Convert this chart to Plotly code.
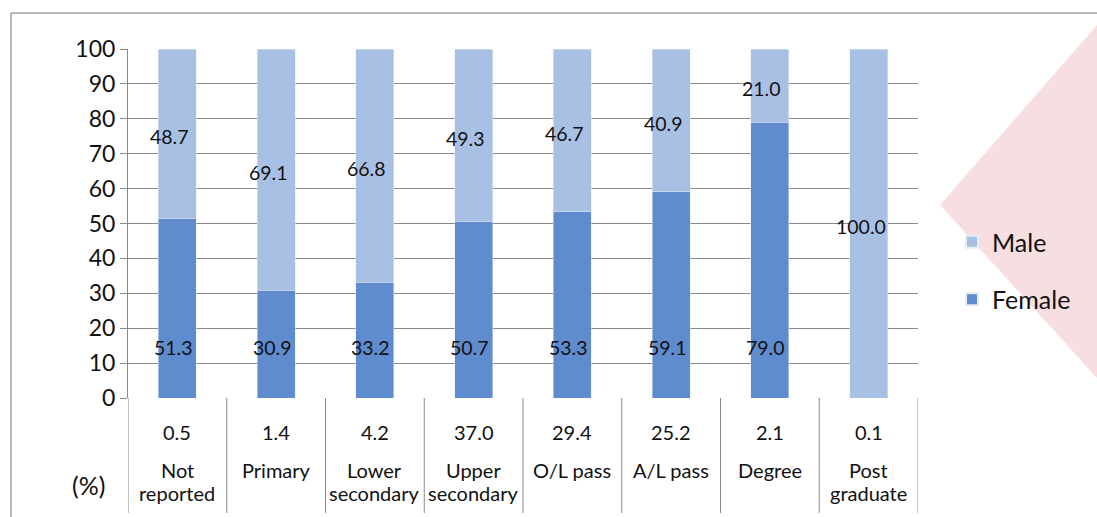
import plotly.graph_objects as go

# Education level categories (two-line labels) and share of each level (%)
categories = ["Not<br>reported", "Primary", "Lower<br>secondary", "Upper<br>secondary",
              "O/L pass", "A/L pass", "Degree", "Post<br>graduate"]
level_share = ["0.5", "1.4", "4.2", "37.0", "29.4", "25.2", "2.1", "0.1"]

# Gender split within each level (%)
female = [51.3, 30.9, 33.2, 50.7, 53.3, 59.1, 79.0, 0.0]
male = [48.7, 69.1, 66.8, 49.3, 46.7, 40.9, 21.0, 100.0]

FEMALE_COLOR = "#5F8BCF"
MALE_COLOR = "#A9C0E5"
GRID = "#8A8A8A"
FONT = "Lato, 'DejaVu Sans', sans-serif"
TEXT = "#111111"

n = len(categories)
xs = list(range(n))

# plot-area geometry in pixels, used to convert pixel offsets to paper units
W, H = 1097, 517
L, R, T, B = 128, 179, 49, 119
PW, PH = W - L - R, H - T - B


def px_x(p):
    return (p - L) / PW


def px_y(p):
    return (H - B - p) / PH


fig = go.Figure()
fig.add_trace(go.Bar(x=xs, y=female, name="Female", marker_color=FEMALE_COLOR,
                     width=0.385, legendgroup="f", legendrank=2, hoverinfo="skip"))
fig.add_trace(go.Bar(x=xs, y=male, name="Male", marker_color=MALE_COLOR,
                     width=0.385, legendgroup="m", legendrank=1, hoverinfo="skip"))

annotations = []
# male value labels, centred in the male segment
for i, (f, m) in enumerate(zip(female, male)):
    annotations.append(dict(x=i, y=f + m / 2, xref="x", yref="y", text=f"{m:.1f}",
                            showarrow=False, xshift=-8, yshift=-3,
                            font=dict(family=FONT, size=19.5, color=TEXT)))
# female value labels, all on one row near the base
for i, f in enumerate(female):
    if f > 0:
        annotations.append(dict(x=i, y=14.6, xref="x", yref="y", text=f"{f:.1f}",
                                showarrow=False, xshift=-4,
                                font=dict(family=FONT, size=19.5, color=TEXT)))
# table under the axis: share row and category rows
for i, (s, c) in enumerate(zip(level_share, categories)):
    annotations.append(dict(x=i, y=px_y(432), xref="x", yref="paper", text=s,
                            showarrow=False, yanchor="middle",
                            font=dict(family=FONT, size=20, color=TEXT)))
    for j, line in enumerate(c.split("<br>")):
        annotations.append(dict(x=i, y=px_y(470 + 23 * j), xref="x", yref="paper",
                                text=line, showarrow=False, yanchor="middle",
                                font=dict(family=FONT, size=20, color=TEXT)))
annotations.append(dict(x=px_x(88), y=px_y(485), xref="paper", yref="paper", text="(%)",
                        showarrow=False, xanchor="center", yanchor="middle",
                        font=dict(family=FONT, size=25, color=TEXT)))

shapes = []
# soft pink diamond in the right margin
shapes.append(dict(type="path", xref="paper", yref="paper", layer="below",
                   path=f"M {px_x(940)},{px_y(205)} L {px_x(1097)},{px_y(25)} "
                        f"L {px_x(1097)},{px_y(378)} Z",
                   fillcolor="#F7DEE1", line=dict(width=0)))
# separators of the category table
for k in range(n + 1):
    shapes.append(dict(type="line", xref="x", yref="paper", x0=k - 0.5, x1=k - 0.5,
                       y0=0, y1=px_y(513), line=dict(color=GRID, width=1)))
# outer frame (top and left edges)
shapes.append(dict(type="line", xref="paper", yref="paper", x0=px_x(11), x1=px_x(1097),
                   y0=px_y(13), y1=px_y(13), line=dict(color="#A0A0A0", width=1.5)))
shapes.append(dict(type="line", xref="paper", yref="paper", x0=px_x(11), x1=px_x(11),
                   y0=px_y(13), y1=px_y(517), line=dict(color="#A0A0A0", width=1.5)))

fig.update_layout(
    width=W, height=H,
    margin=dict(l=L, r=R, t=T, b=B),
    barmode="stack",
    paper_bgcolor="white", plot_bgcolor="rgba(0,0,0,0)",
    font=dict(family=FONT, color=TEXT),
    showlegend=True,
    legend=dict(x=px_x(952), y=px_y(219), xanchor="left", yanchor="top",
                traceorder="grouped", tracegroupgap=22, itemsizing="constant",
                font=dict(family=FONT, size=25, color=TEXT),
                bgcolor="rgba(0,0,0,0)"),
    xaxis=dict(range=[-0.5, n - 0.5], showticklabels=False, showgrid=False,
               zeroline=False, showline=False, ticks=""),
    yaxis=dict(range=[0, 100], dtick=10, showgrid=True, gridcolor=GRID, gridwidth=1,
               zeroline=False, showline=True, linecolor=GRID, linewidth=1,
               ticks="outside", ticklen=7, tickcolor=GRID,
               tickfont=dict(family=FONT, size=23, color=TEXT)),
    annotations=annotations,
    shapes=shapes,
)

fig.write_html("out.html")
